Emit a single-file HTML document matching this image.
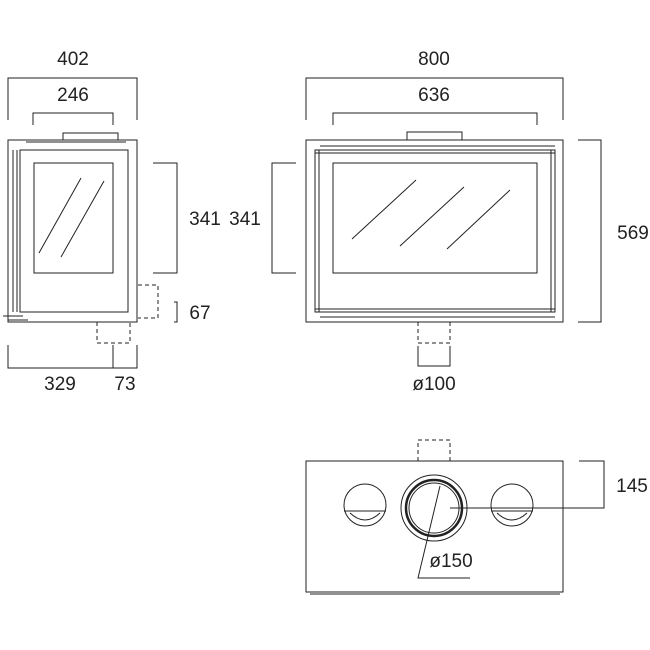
<!DOCTYPE html>
<html><head><style>body{margin:0;background:#fff}svg{display:block}text{font-family:"Liberation Sans",sans-serif;font-size:19px;fill:#222;text-anchor:middle}</style></head><body>
<svg width="650" height="650" viewBox="0 0 650 650" fill="none" stroke="#222" stroke-width="1">
<!-- left view dims -->
<path d="M8 120V78H137V120M33 125V113H113V125"/>
<text x="73" y="65" stroke="none">402</text><text x="73" y="101" stroke="none">246</text>
<rect x="8" y="140" width="129" height="182"/>
<path d="M63 140V133H118V140"/>
<rect x="20" y="150" width="108" height="162"/>
<path d="M13 150V312M17 150V312M26 142h100M3 316h20M8 320h20"/>
<rect x="34" y="163" width="79" height="110"/>
<path d="M39 253L81 178M61 257L104 181"/>
<path d="M153 163H177V273H153M174 302h3v20h-3"/>
<text x="205" y="225" stroke="none">341</text><text x="200" y="319" stroke="none">67</text>
<path d="M138 285h20v33h-20M97 322v21h33v-21" stroke-dasharray="4 3"/>
<path d="M8 345V368H137V345M113 345V368"/>
<text x="60" y="390" stroke="none">329</text><text x="125" y="390" stroke="none">73</text>
<!-- front view -->
<path d="M306 120V78H563V120M333 125V113H537V125"/>
<text x="434" y="65" stroke="none">800</text><text x="434" y="101" stroke="none">636</text>
<rect x="306" y="140" width="257" height="182"/>
<path d="M407 140V132H462V140"/>
<rect x="315" y="150" width="240" height="162"/>
<path d="M315 153H555M315 309H555M319 150V312M551 150V312M320 146h235M320 317h235"/>
<rect x="333" y="163" width="204" height="110"/>
<path d="M352 239L416 180M400 246L464 187M447 249L510 190"/>
<path d="M296 163H272V273H296M578 140H601V322H578"/>
<text x="245" y="225" stroke="none">341</text><text x="633" y="239" stroke="none">569</text>
<path d="M418 322v21h32v-21M418 461v-21h32v21" stroke-dasharray="4 3"/>
<path d="M418 346V366H450V346"/>
<text x="434" y="390" stroke="none">ø100</text>
<!-- bottom view -->
<rect x="306" y="461" width="257" height="131"/>
<path d="M310 594H560"/>
<circle cx="434" cy="508" r="33"/>
<circle cx="434" cy="508" r="28" stroke-width="2.5"/>
<circle cx="434" cy="508" r="25"/>
<circle cx="365" cy="505" r="21"/><path d="M344 511H386M350 513q15 14 30 0"/>
<circle cx="512" cy="505" r="21"/><path d="M491 511H533M497 513q15 14 30 0"/>
<path d="M579 461H604V508H450"/>
<path d="M440 486L418 578H470"/>
<text x="632" y="492" stroke="none">145</text>
<text x="451" y="567" stroke="none">ø150</text>
</svg>
</body></html>
